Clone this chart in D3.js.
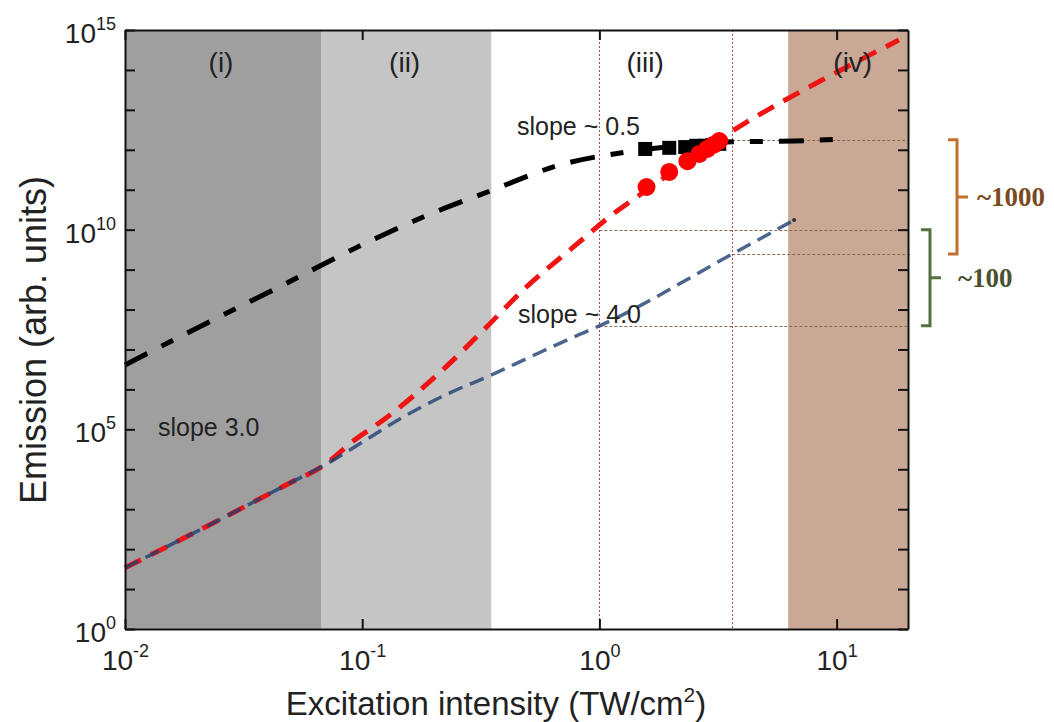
<!DOCTYPE html>
<html>
<head>
<meta charset="utf-8">
<script src="https://cdn.jsdelivr.net/npm/d3@7/dist/d3.min.js"></script>
<style>
  body { margin: 0; background: #fff; }
  svg { display: block; font-family: "Liberation Sans", Arial, sans-serif; }
</style>
</head>
<body>
<svg width="1054" height="722"></svg>
<script>
// excitation intensity (TW/cm^2) vs emission (arb. units)

// shaded regimes
const bandEdges = [0.01, 0.0674, 0.351, 6.25, 20];
const bandColors = ['#9f9f9f', '#c5c5c5', '#ffffff', '#c9a896'];
const bandLabels = ['(i)', '(ii)', '(iii)', '(iv)'];
const bandLabelX = [0.0254, 0.151, 1.56, 11.7];

// black dash-dot curve
const blackX = [0.01, 0.0138, 0.0259, 0.0491, 0.094, 0.1815, 0.354, 0.665, 1.32, 2.17, 3.63, 6.62, 10.3];
const blackY = [4.1e6, 1.1e7, 7.3e7, 4.9e8, 3.5e9, 2.1e10, 9.8e10, 4.0e11, 8.9e11, 1.26e12, 1.58e12, 1.66e12, 1.86e12];

// red dashed curve
const redX = [0.01, 0.0259, 0.0491, 0.0682, 0.0929, 0.1256, 0.214, 0.328, 0.488, 0.769, 1.156, 1.52, 3.63, 9.49, 18.3];
const redY = [34, 603, 4.4e3, 1.2e4, 5.4e4, 1.9e5, 2.75e6, 3.25e7, 3.5e8, 3.5e9, 2.6e10, 8.3e10, 2.95e12, 7.4e13, 5.6e14];

// blue dashed curve
const blueX = [0.01, 0.0259, 0.0491, 0.0682, 0.0929, 0.144, 0.229, 0.351, 0.522, 0.80, 1.0, 3.63, 6.62];
const blueY = [34, 603, 4.4e3, 1.2e4, 3.6e4, 1.82e5, 7.7e5, 2.3e6, 6.9e6, 2.2e7, 3.9e7, 2.45e9, 1.74e10];

// measured points
const squareX = [1.56, 1.97, 2.30, 2.56, 2.79, 2.99, 3.20];
const squareY = [1.05e12, 1.12e12, 1.17e12, 1.26e12, 1.26e12, 1.32e12, 1.41e12];
const circleX = [1.58, 1.97, 2.35, 2.64, 2.85, 3.02, 3.20];
const circleY = [1.17e11, 2.8e11, 5.2e11, 7.9e11, 1.05e12, 1.32e12, 1.66e12];

// dotted guide lines
const guideX = [1, 3.63];
const guideY = [1.78e12, 1e10, 2.45e9, 3.9e7];
const guideFrom = [3.63, 1, 3.63, 1];
const guideTo = [20, 20, 20.8, 20];

// brackets on the right
const bracketTop = [1.78e12, 1e10];
const bracketBottom = [2.45e9, 3.9e7];
const bracketText = ['~1000', '~100'];

const xTicks = [0.01, 0.1, 1, 10];
const yTicks = d3.range(0, 16).map(e => Math.pow(10, e));

const width = 1054, height = 722;
const margin = { top: 30, right: 146, bottom: 93, left: 125 };
const svg = d3.select('svg');

const x = d3.scaleLog().domain([0.01, 20]).range([margin.left, width - margin.right]);
const y = d3.scaleLog().domain([1, 1e15]).range([height - margin.bottom, margin.top]);

// regime bands
svg.append('g').selectAll('rect').data(bandColors)
    .enter().append('rect')
    .attr('x', (d, i) => x(bandEdges[i]))
    .attr('width', (d, i) => x(bandEdges[i + 1]) - x(bandEdges[i]))
    .attr('y', y(1e15))
    .attr('height', y(1) - y(1e15))
    .attr('fill', d => d);

// guides
svg.append('g').selectAll('line').data(guideX)
    .enter().append('line')
    .attr('x1', d => Math.round(x(d)) + 0.5).attr('x2', d => Math.round(x(d)) + 0.5)
    .attr('y1', y(1e15)).attr('y2', y(1))
    .attr('stroke', '#b04a40').attr('stroke-width', 1)
    .attr('stroke-dasharray', '2,2');

svg.append('g').selectAll('line').data(guideY)
    .enter().append('line')
    .attr('x1', (d, i) => x(guideFrom[i])).attr('x2', (d, i) => x(guideTo[i]))
    .attr('y1', d => Math.round(y(d)) + 0.5).attr('y2', d => Math.round(y(d)) + 0.5)
    .attr('stroke', '#8a6a50').attr('stroke-width', 1)
    .attr('stroke-dasharray', '3,2');

const line = d3.line().curve(d3.curveMonotoneX).x(d => x(d[0])).y(d => y(d[1]));
const zip = (a, b) => a.map((v, i) => [v, b[i]]);

svg.append('path')
    .attr('d', line(zip(blackX, blackY)))
    .attr('fill', 'none').attr('stroke', '#000').attr('stroke-width', 5)
    .attr('stroke-dasharray', '25,16,13,16');

svg.append('path')
    .attr('d', line(zip(redX, redY)))
    .attr('fill', 'none').attr('stroke', '#ef1515').attr('stroke-width', 5)
    .attr('stroke-dasharray', '18,11');

svg.append('path')
    .attr('d', line(zip(blueX, blueY)))
    .attr('fill', 'none').attr('stroke', '#1f3f70').attr('stroke-opacity', 0.8)
    .attr('stroke-width', 3.5)
    .attr('stroke-dasharray', '15,8');

svg.append('circle')
    .attr('cx', x(blueX[blueX.length - 1])).attr('cy', y(blueY[blueY.length - 1]))
    .attr('r', 2).attr('fill', '#333');

// markers
svg.append('g').selectAll('rect').data(squareX)
    .enter().append('rect')
    .attr('x', d => x(d) - 7).attr('y', (d, i) => y(squareY[i]) - 7)
    .attr('width', 14).attr('height', 14).attr('fill', '#000');

svg.append('g').selectAll('circle').data(circleX)
    .enter().append('circle')
    .attr('cx', d => x(d)).attr('cy', (d, i) => y(circleY[i]))
    .attr('r', 9).attr('fill', '#ff0000');

// band labels
svg.append('g').selectAll('text').data(bandLabels)
    .enter().append('text')
    .attr('x', (d, i) => x(bandLabelX[i])).attr('y', 72)
    .attr('text-anchor', 'middle')
    .attr('font-size', 28).attr('fill', '#222')
    .text(d => d);

// slope notes
const notes = [['slope ~ 0.5', 517, 135], ['slope ~ 4.0', 518, 323], ['slope 3.0', 158, 436]];
svg.append('g').selectAll('text').data(notes)
    .enter().append('text')
    .attr('x', d => d[1]).attr('y', d => d[2])
    .attr('font-size', 25).attr('fill', '#222')
    .text(d => d[0]);

// axes
const sup = (sel, keep) => sel.each(function (d) {
    const e = Math.round(Math.log10(d));
    const t = d3.select(this).text(null);
    if (!keep(e)) return;
    t.append('tspan').text('10');
    t.append('tspan').attr('dy', -13).attr('font-size', 18).text(e);
});

const styleAxis = g => {
    g.select('.domain').attr('stroke', '#111').attr('stroke-width', 2);
    g.selectAll('.tick line').attr('stroke', '#111').attr('stroke-width', 2);
    g.selectAll('text').attr('font-size', 28).attr('fill', '#222')
        .attr('font-family', '"Liberation Sans", Arial, sans-serif');
};

svg.append('g')
    .attr('transform', `translate(0,${y(1)})`)
    .call(d3.axisBottom(x).tickValues(xTicks).tickSizeInner(-10).tickSizeOuter(0).tickPadding(21))
    .call(styleAxis)
    .call(g => g.selectAll('.tick text').call(sup, () => true));

svg.append('g')
    .attr('transform', `translate(0,${y(1e15)})`)
    .call(d3.axisTop(x).tickValues(xTicks).tickSizeInner(-10).tickSizeOuter(0).tickFormat(''))
    .call(styleAxis);

svg.append('g')
    .attr('transform', `translate(${x(0.01)},0)`)
    .call(d3.axisLeft(y).tickValues(yTicks).tickSizeInner(-10).tickSizeOuter(0).tickPadding(9))
    .call(styleAxis)
    .call(g => g.selectAll('.tick text').attr('dy', '0.45em').call(sup, e => e % 5 === 0));

svg.append('g')
    .attr('transform', `translate(${x(20)},0)`)
    .call(d3.axisRight(y).tickValues(yTicks).tickSizeInner(-10).tickSizeOuter(0).tickFormat(''))
    .call(styleAxis);

// axis titles
const xt = svg.append('text')
    .attr('x', 496).attr('y', 715)
    .attr('text-anchor', 'middle').attr('font-size', 33).attr('fill', '#222');
xt.append('tspan').text('Excitation intensity (TW/cm');
xt.append('tspan').attr('dy', -13).attr('font-size', 21).text('2');
xt.append('tspan').attr('dy', 13).text(')');

svg.append('text')
    .attr('transform', 'translate(46,340) rotate(-90)')
    .attr('text-anchor', 'middle').attr('font-size', 36).attr('fill', '#222')
    .text('Emission (arb. units)');

// brackets
const bracketX = [957, 930];
const bracketColors = ['#c0712e', '#56703f'];
const bracketTextColors = ['#7a4a22', '#4a5232'];
const bracketTextX = [977, 958];

bracketTop.forEach((top, i) => {
    const bx = bracketX[i], y0 = y(top), y1 = y(bracketBottom[i]), ym = (y0 + y1) / 2;
    svg.append('path')
        .attr('d', `M${bx - 9},${y0}H${bx}V${y1}H${bx - 9}M${bx},${ym}H${bx + 11}`)
        .attr('fill', 'none').attr('stroke', bracketColors[i]).attr('stroke-width', 3);
    svg.append('text')
        .attr('x', bracketTextX[i]).attr('y', ym + 9)
        .attr('font-family', '"Liberation Serif", "Times New Roman", serif')
        .attr('font-weight', 'bold').attr('font-size', 27)
        .attr('fill', bracketTextColors[i])
        .text(bracketText[i]);
});
</script>
</body>
</html>
